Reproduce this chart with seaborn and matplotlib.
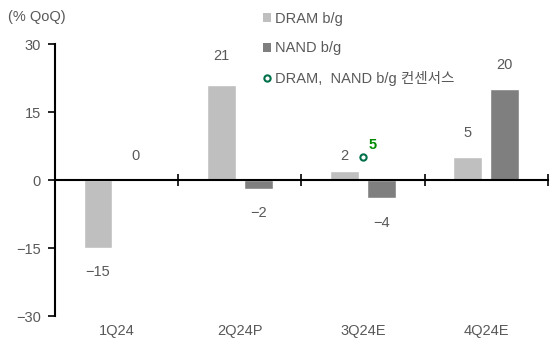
import matplotlib
matplotlib.use("Agg")
import matplotlib.pyplot as plt
import seaborn as sns
import pandas as pd
from matplotlib.lines import Line2D
from matplotlib.patches import Patch

categories = ["1Q24", "2Q24P", "3Q24E", "4Q24E"]
dram = [-15, 21, 2, 5]
nand = [0, -2, -4, 20]
consensus_cat = "3Q24E"
consensus_val = 5
yticks = [30, 15, 0, -15, -30]

sns.set_theme(style="white")
plt.rcParams['font.family'] = ['Liberation Sans', 'Noto Sans CJK KR', 'DejaVu Sans']
plt.rcParams['axes.unicode_minus'] = True

TXT = "#595959"
C_DRAM = "#BFBFBF"
C_NAND = "#7F7F7F"
FS = 10.5

df = pd.DataFrame({
    "cat": categories * 2,
    "val": dram + nand,
    "series": ["DRAM b/g"] * 4 + ["NAND b/g"] * 4,
})

fig = plt.figure(figsize=(5.5, 3.47), dpi=100)
ax = fig.add_axes([0.1, 0.089, 0.896, 0.784])

sns.barplot(data=df, x="cat", y="val", hue="series", order=categories,
            palette=[C_DRAM, C_NAND], width=0.6, gap=0.23, ax=ax,
            legend=False, errorbar=None, saturation=1)

ax.set_ylim(-30, 30)
ax.set_xlim(-0.5, 3.5)
ax.set_yticks(yticks)
ax.set_yticklabels([f"{v}".replace("-", "\u2212") for v in yticks], color=TXT, fontsize=FS)
ax.set_xlabel("")
ax.set_ylabel("")

for s in ["top", "right"]:
    ax.spines[s].set_visible(False)
ax.spines["left"].set_color("black")
ax.spines["left"].set_linewidth(1.5)
ax.spines["bottom"].set_position(("data", 0))
ax.spines["bottom"].set_color("black")
ax.spines["bottom"].set_linewidth(1.5)
ax.tick_params(axis="y", direction="out", length=5, width=1.2, color="black", left=True, pad=5)
ax.set_xticks([0.5, 1.5, 2.5, 3.5])
ax.set_xticklabels([])
ax.tick_params(axis="x", direction="inout", length=8, width=1.2, color="black", bottom=True)

# category labels at bottom
for i, c in enumerate(categories):
    ax.annotate(c, xy=(i, -30), xytext=(0, -11), textcoords="offset points",
                ha="center", va="center", color=TXT, fontsize=FS, annotation_clip=False)

# value labels
default_off = 17.5
special_off = {(0, 1): 21, (0, 2): 11}
for hi, cont in enumerate(ax.containers):
    vals = dram if hi == 0 else nand
    for ci, (bar, v) in enumerate(zip(cont, vals)):
        xc = bar.get_x() + bar.get_width() / 2
        off = special_off.get((hi, ci), default_off)
        sign = 1 if v >= 0 else -1
        lab = f"{v}".replace("-", "\u2212")
        ax.annotate(lab, xy=(xc, v), xytext=(0, sign * off), textcoords="offset points",
                    ha="center", va="center", color=TXT, fontsize=FS)

# consensus marker
ci = categories.index(consensus_cat)
ax.plot([ci], [consensus_val], marker="o", ms=4.5, mfc="white", mec="#00704A",
        mew=1.5, ls="none")
ax.annotate(f"{consensus_val}", xy=(ci, consensus_val), xytext=(7, 9),
            textcoords="offset points", ha="center", va="center",
            color="#008A00", fontsize=FS, fontweight="bold")

# unit label
fig.text(8 / 550, 1 - 17 / 347, "(% QoQ)", color=TXT, fontsize=FS, ha="left", va="center")

# legend
handles = [
    Patch(facecolor=C_DRAM, edgecolor="none"),
    Patch(facecolor=C_NAND, edgecolor="none"),
    Line2D([0], [0], marker="o", ms=4.5, mfc="white", mec="#00704A", mew=1.5, ls="none"),
]
labels = ["DRAM b/g", "NAND b/g", "DRAM,  NAND b/g 컨센서스"]
leg = fig.legend(handles, labels, loc="upper left", bbox_to_anchor=(263 / 550, 1 - 12 / 347),
                 frameon=False, fontsize=FS, handlelength=0.55, handleheight=0.55,
                 handletextpad=0.3, labelspacing=1.05, borderpad=0, borderaxespad=0)
for t in leg.get_texts():
    t.set_color(TXT)

fig.savefig("out.png", dpi=100)
